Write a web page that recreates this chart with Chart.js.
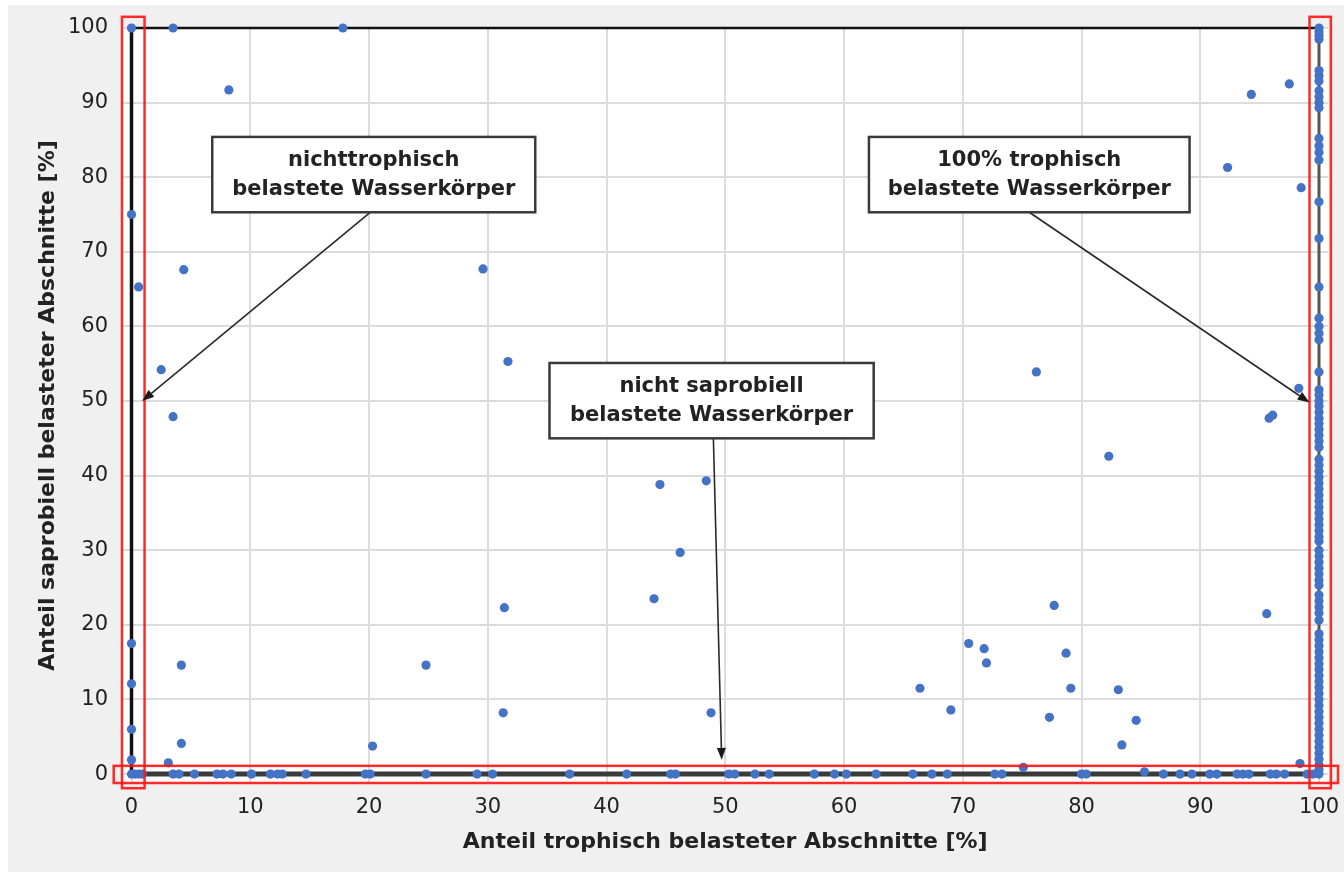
<!DOCTYPE html>
<html><head><meta charset="utf-8">
<script src="https://cdn.jsdelivr.net/npm/chart.js@4.4.1/dist/chart.umd.min.js"></script>
<style>
html,body{margin:0;padding:0;background:#ffffff;}
#wrap{position:absolute;left:8px;top:5px;width:1336px;height:867px;background:#f0f0f0;}
canvas{display:block;}
</style></head><body>
<div id="wrap"><canvas id="c" width="1336" height="867"></canvas></div>
<script>
// ---- tick labels ----
const xTicks = [0,10,20,30,40,50,60,70,80,90,100];
const yTicks = [0,10,20,30,40,50,60,70,80,90,100];
const xTitle = "Anteil trophisch belasteter Abschnitte [%]";
const yTitle = "Anteil saprobiell belasteter Abschnitte [%]";

// ---- data ----
// water bodies with 0 % trophic share (x = 0)
const colZeroY = [100, 75.0, 17.5, 12.1, 6.0, 1.9];
// water bodies with 100 % trophic share (x = 100)
const colHundredY = [100, 99.5, 99.0, 98.5, 94.3, 93.6, 92.9, 91.6, 90.8, 90.0, 89.3,
  85.2, 84.2, 83.3, 82.3, 76.7, 71.8, 65.3, 61.1, 60.0, 59.1, 58.2, 53.9,
  51.5, 50.8, 50.0, 49.3, 48.5, 47.7, 47.0, 46.2, 45.4, 44.6, 43.8, 42.2, 41.4, 40.6,
  39.8, 39.0, 38.2, 37.4, 36.6, 35.8, 35.0, 34.2, 33.4, 32.6, 31.8, 31.2, 30.0, 29.2,
  28.4, 27.6, 26.8, 26.0, 25.3, 24.0, 23.2, 22.4, 21.6, 20.6, 18.8, 18.0, 17.2, 16.4,
  15.6, 14.8, 14.0, 13.2, 12.4, 11.6, 10.8, 10.0, 9.2, 8.4, 7.6, 6.8, 6.0, 5.2, 4.4,
  3.6, 2.8, 2.0, 1.2, 0.6, 0];
// water bodies with 0 % saprobic share (y = 0)
const rowZeroX = [0, 0.3, 0.6, 0.9, 3.5, 4.0, 5.3, 7.2, 7.7, 8.4, 10.1, 11.7, 12.3, 12.7,
  14.7, 19.7, 20.1, 24.8, 29.1, 30.4, 36.9, 41.7, 45.4, 45.8, 50.3, 50.8, 52.5, 53.7,
  57.5, 59.2, 60.2, 62.7, 65.8, 67.4, 68.7, 72.7, 73.3, 80.0, 80.4, 86.9, 88.3, 89.3,
  90.8, 91.4, 93.1, 93.6, 94.1, 95.9, 96.4, 97.1, 99.0, 99.5];
// all other water bodies
const otherX = [3.5, 17.8, 8.2, 0.6, 4.4, 2.5, 3.5, 4.2, 4.2, 3.1, 20.3, 24.8, 29.6, 31.7,
  31.4, 31.3, 44.5, 48.4, 46.2, 44.0, 48.8, 76.2, 82.3, 77.7, 70.5, 71.8, 72.0, 78.7,
  66.4, 79.1, 83.1, 69.0, 77.3, 84.6, 83.4, 75.1, 85.3, 94.3, 97.5, 92.3, 98.5, 98.3,
  95.8, 96.1, 95.6, 98.4];
const otherY = [100, 100, 91.7, 65.3, 67.6, 54.2, 47.9, 14.6, 4.1, 1.5, 3.75, 14.6, 67.7, 55.3,
  22.3, 8.2, 38.8, 39.3, 29.7, 23.5, 8.2, 53.9, 42.6, 22.6, 17.5, 16.8, 14.9, 16.2,
  11.5, 11.5, 11.3, 8.6, 7.6, 7.2, 3.9, 0.9, 0.3, 91.1, 92.5, 81.3, 78.6, 51.7,
  47.7, 48.1, 21.5, 1.4];

// frame lines (data units)
const frameLeftX = [0, 0], frameLeftY = [0, 100];
const frameTopX = [0, 100], frameTopY = [100, 100];
const frameBottomX = [0, 100], frameBottomY = [0, 0];
const frameRightX = [100, 100], frameRightY = [0, 100];

// annotations (data units)
const noteLines = [["nichttrophisch", "belastete Wasserkörper"],
                   ["100% trophisch", "belastete Wasserkörper"],
                   ["nicht saprobiell", "belastete Wasserkörper"]];
const noteBoxes = [[6.8, 85.4, 34.0, 75.3], [62.1, 85.4, 89.1, 75.3], [35.2, 55.1, 62.5, 45.0]];
const noteArrows = [[20.1, 75.3, 0.9, 50.0], [75.6, 75.3, 99.2, 49.8], [49.0, 45.0, 49.7, 1.9]];
const highlightRects = [[-0.8, 101.5, 1.1, -1.9], [99.2, 101.5, 101.0, -1.9], [-1.5, 1.1, 101.6, -1.2]];

const pts = [];
colZeroY.forEach(y => pts.push({x: 0, y}));
colHundredY.forEach(y => pts.push({x: 100, y}));
rowZeroX.forEach(x => pts.push({x, y: 0}));
otherX.forEach((x, i) => pts.push({x, y: otherY[i]}));

function lineSet(xs, ys, color, w) {
  return {type: 'scatter', showLine: true, data: xs.map((x, i) => ({x, y: ys[i]})),
    borderColor: color, borderWidth: w, pointRadius: 0, order: 2, clip: false, fill: false};
}

const FONT = "'DejaVu Sans', sans-serif";
const TXT = '#222222';

const decor = {
  id: 'decor',
  beforeDraw(chart) {
    const {ctx, chartArea: a} = chart;
    ctx.save();
    ctx.fillStyle = '#ffffff';
    ctx.fillRect(a.left, a.top, a.right - a.left, a.bottom - a.top);
    ctx.restore();
  },
  afterDatasetsDraw(chart) {
    const {ctx} = chart;
    const xs = chart.scales.x, ys = chart.scales.y;
    const px = v => xs.getPixelForValue(v), py = v => ys.getPixelForValue(v);
    ctx.save();
    // red highlight rectangles
    ctx.strokeStyle = 'rgba(255,20,20,0.9)';
    ctx.lineWidth = 2.5;
    highlightRects.forEach(r => {
      ctx.strokeRect(px(r[0]), py(r[1]), px(r[2]) - px(r[0]), py(r[3]) - py(r[1]));
    });
    // arrows
    ctx.strokeStyle = '#2a2a2a';
    ctx.fillStyle = '#1a1a1a';
    ctx.lineWidth = 1.6;
    noteArrows.forEach(a => {
      const x1 = px(a[0]), y1 = py(a[1]), x2 = px(a[2]), y2 = py(a[3]);
      const ang = Math.atan2(y2 - y1, x2 - x1);
      const L = 12, W = 4.5;
      const bx = x2 - L * Math.cos(ang), by = y2 - L * Math.sin(ang);
      ctx.beginPath(); ctx.moveTo(x1, y1); ctx.lineTo(bx, by); ctx.stroke();
      ctx.beginPath();
      ctx.moveTo(x2, y2);
      ctx.lineTo(bx + W * Math.sin(ang), by - W * Math.cos(ang));
      ctx.lineTo(bx - W * Math.sin(ang), by + W * Math.cos(ang));
      ctx.closePath(); ctx.fill();
    });
    // boxes
    noteBoxes.forEach((b, i) => {
      const x1 = px(b[0]), y1 = py(b[1]), x2 = px(b[2]), y2 = py(b[3]);
      ctx.fillStyle = '#ffffff';
      ctx.fillRect(x1, y1, x2 - x1, y2 - y1);
      ctx.strokeStyle = '#3a3a3a';
      ctx.lineWidth = 2.5;
      ctx.strokeRect(x1, y1, x2 - x1, y2 - y1);
      ctx.fillStyle = TXT;
      ctx.font = "bold 21px " + FONT;
      ctx.textAlign = 'center';
      ctx.textBaseline = 'middle';
      const cx = (x1 + x2) / 2, cy = (y1 + y2) / 2;
      ctx.fillText(noteLines[i][0], cx, cy - 14);
      ctx.fillText(noteLines[i][1], cx, cy + 15);
    });
    ctx.restore();
  }
};

new Chart(document.getElementById('c'), {
  type: 'scatter',
  data: {
    datasets: [
      {data: pts, backgroundColor: '#4472c4', borderWidth: 0, pointRadius: 4.6,
       pointHoverRadius: 4.6, order: 0, clip: false},
      lineSet(frameBottomX, frameBottomY, '#3a3a3a', 5),
      lineSet(frameLeftX, frameLeftY, '#111111', 3.5),
      lineSet(frameTopX, frameTopY, '#111111', 2.5),
      lineSet(frameRightX, frameRightY, '#555555', 3)
    ]
  },
  options: {
    responsive: false,
    animation: false,
    devicePixelRatio: 1,
    layout: {padding: {left: 0, right: 15.5, top: 23, bottom: 0}},
    plugins: {legend: {display: false}, tooltip: {enabled: false}},
    scales: {
      x: {
        type: 'linear', min: -0.8, max: 100.8,
        afterBuildTicks: s => { s.ticks = xTicks.map(v => ({value: v})); },
        afterFit: s => { s.height = 89; s.paddingLeft = 0; s.paddingRight = 0; },
        grid: {color: '#dcdcdc', lineWidth: 2, drawTicks: false},
        border: {display: false},
        ticks: {font: {family: FONT, size: 21}, color: TXT, padding: 12, maxRotation: 0, autoSkip: false},
        title: {display: true, text: xTitle, color: TXT,
                font: {family: FONT, size: 22, weight: 'bold'}, padding: {top: 0, bottom: 17}}
      },
      y: {
        type: 'linear', min: -1.2, max: 100,
        afterBuildTicks: s => { s.ticks = yTicks.map(v => ({value: v})); },
        afterFit: s => { s.width = 114; s.paddingTop = 0; s.paddingBottom = 0; },
        grid: {color: '#dcdcdc', lineWidth: 2, drawTicks: false},
        border: {display: false},
        ticks: {font: {family: FONT, size: 21}, color: TXT, padding: 14, autoSkip: false},
        title: {display: true, text: yTitle, color: TXT,
                font: {family: FONT, size: 22, weight: 'bold'}, padding: {top: 27, bottom: 0}}
      }
    }
  },
  plugins: [decor]
});
</script>
</body></html>
